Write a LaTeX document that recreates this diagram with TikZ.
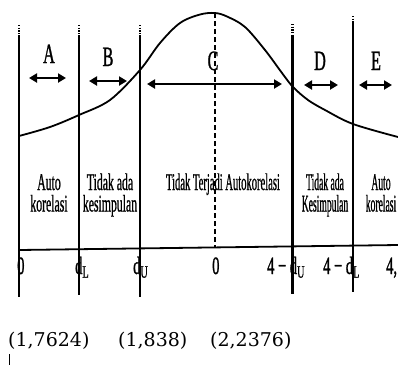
\documentclass[tikz,border=0pt]{standalone}
\usepackage{fontspec}
\setmainfont{Liberation Serif}
\newfontfamily\condA[FakeStretch=0.49,FakeBold=0.7]{Liberation Serif}
\newfontfamily\condM[FakeStretch=0.44,FakeBold=0.7]{Liberation Serif}
\newfontfamily\condB[FakeStretch=0.4,FakeBold=0.7]{Liberation Serif}
\newfontfamily\condL[FakeStretch=0.58,FakeBold=0.9]{Liberation Serif}
\newfontfamily\bottomfont{DejaVu Serif}
\usetikzlibrary{arrows.meta}
\tikzset{
  vline/.style={line width=2.2pt},
  dotcap/.style={line width=2.2pt, dash pattern=on 1.2pt off 1.5pt},
  dbl/.style={line width=2.3pt, {Triangle[length=8pt,width=9pt]}-{Triangle[length=8pt,width=9pt]}},
  curve/.style={line width=1.8pt},
  lab/.style={font=\condL\fontsize{28}{28}\selectfont, inner sep=0pt, anchor=base},
  reg/.style={font=\condA\fontsize{24}{21.5}\selectfont, align=center, inner sep=0pt, anchor=base},
  regm/.style={font=\condM\fontsize{24}{21.5}\selectfont, align=center, inner sep=0pt, anchor=base},
  regn/.style={font=\condB\fontsize{24}{21.5}\selectfont, align=center, inner sep=0pt, anchor=base},
  ax/.style={font=\condL\fontsize{25}{25}\selectfont, inner sep=0pt, anchor=base west},
  bt/.style={font=\bottomfont\fontsize{19}{19}\selectfont, inner sep=0pt, anchor=base west}
}
\begin{document}
\begin{tikzpicture}[x=1pt,y=-1pt]
\useasboundingbox (0,0) rectangle (398,365);
\fill[white] (0,0) rectangle (398,365);
% vertical boundary lines
\coordinate (l1a) at (19,25); \coordinate (l1b) at (19,35); \coordinate (l1c) at (19,297);
\coordinate (l2a) at (79,25); \coordinate (l2b) at (79,35); \coordinate (l2c) at (79,295);
\coordinate (l3a) at (140,25); \coordinate (l3b) at (140,35); \coordinate (l3c) at (140,297);
\coordinate (l4a) at (292.5,24); \coordinate (l4b) at (292.5,35); \coordinate (l4c) at (292.5,294);
\coordinate (l5a) at (353,16); \coordinate (l5b) at (353,22); \coordinate (l5c) at (353,292);
\foreach \n in {1,...,5}{
  \draw[dotcap] (l\n a) -- (l\n b);
  \draw[vline] (l\n b) -- (l\n c);
}
% axis
\coordinate (axL) at (19,250);
\coordinate (axR) at (398,245);
\draw[line width=1.8pt] (axL) -- (axR);
% center dashed line
\coordinate (cTop) at (215,13);
\coordinate (cBot) at (215,248);
\draw[line width=1.3pt, dash pattern=on 5pt off 3pt] (cTop) -- (cBot);
% bell curve
\draw[curve] plot[smooth, tension=0.55] coordinates {(19,136) (50,127) (79,115) (110,100) (140,70) (160,43) (180,23) (200,14.5) (215,13) (227,16.5) (245,27) (265,50) (282,73) (293,87) (308,100) (325,110) (353,124) (398,137)};
% arrows
\coordinate (aA1) at (29,78); \coordinate (aA2) at (66,78);
\coordinate (aB1) at (89,81); \coordinate (aB2) at (127,81);
\coordinate (aC1) at (147,84); \coordinate (aC2) at (282,84);
\coordinate (aD1) at (304,85); \coordinate (aD2) at (338,85);
\coordinate (aE1) at (359,85); \coordinate (aE2) at (392,85);
\draw[dbl] (aA1) -- (aA2);
\draw[dbl] (aB1) -- (aB2);
\draw[dbl] (aC1) -- (aC2);
\draw[dbl] (aD1) -- (aD2);
\draw[dbl] (aE1) -- (aE2);
% letters
\node[lab] (tA) at (49,63) {A};
\node[lab] (tB) at (108,66) {B};
\node[lab] (tC) at (213,70) {C};
\node[lab] (tD) at (320,70) {D};
\node[lab] (tE) at (376,70) {E};
% region texts (base anchor = last line)
\node[reg] (r1) at (49,211.5) {Auto\\korelasi};
\node[reg] (r2) at (110,211.5) {Tidak ada\\kesimpulan};
\node[regm] (r3) at (223,190) {Tidak Terjadi Autokorelasi};
\node[regn] (r4) at (325,211.5) {Tidak ada\\Kesimpulan};
\node[regn] (r5) at (381,211.5) {Auto\\korelasi};
% axis labels
\node[ax] (x0) at (17,274) {0};
\node[ax] (x1) at (75,274) {d\textsubscript{L}};
\node[ax] (x2) at (133,274) {d\textsubscript{U}};
\node[ax] (x3) at (212,274) {0};
\node[ax] (x4) at (267,274) {4 − d\textsubscript{U}};
\node[ax] (x5) at (323,274) {4 − d\textsubscript{L}};
\node[ax] (x6) at (386,274) {4,};
% bottom values
\node[bt] (v1) at (8,346.5) {(1,7624)};
\node[bt] (v2) at (118,346.5) {(1,838)};
\node[bt] (v3) at (210,346.5) {(2,2376)};
\coordinate (cur1) at (9,354);
\coordinate (cur2) at (9,365);
\draw[line width=0.8pt] (cur1) -- (cur2);
\end{tikzpicture}
\end{document}
